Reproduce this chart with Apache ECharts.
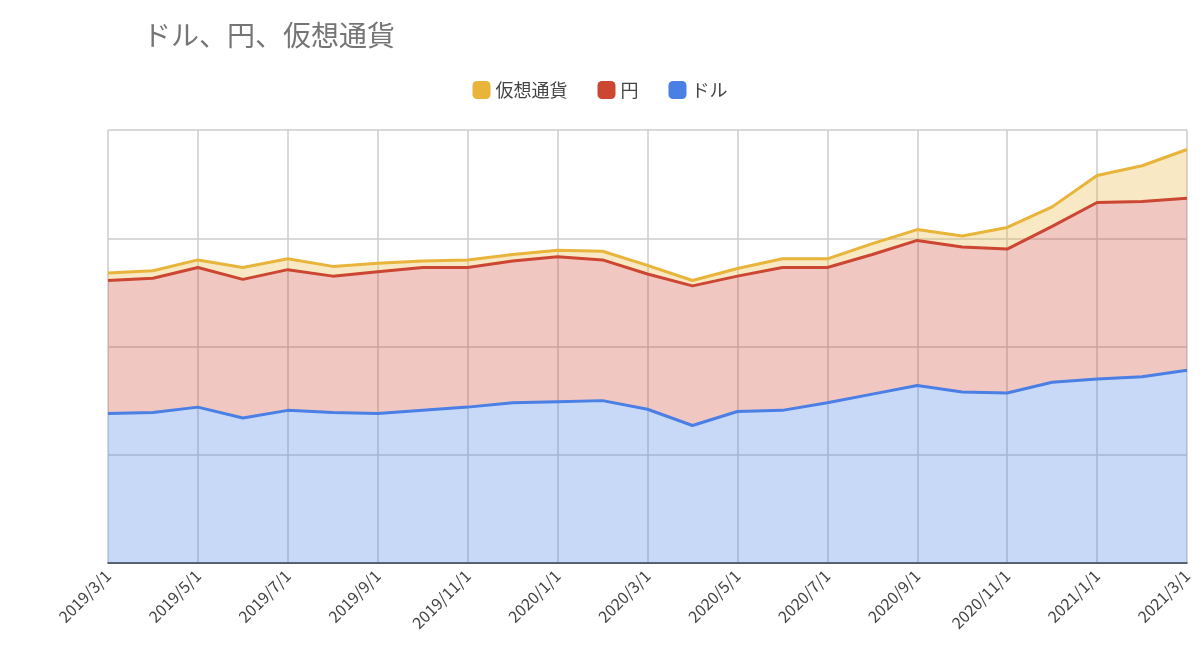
<!DOCTYPE html>
<html><head><meta charset="utf-8">
<script src="https://cdn.jsdelivr.net/npm/echarts@6/dist/echarts.min.js"></script>
<style>html,body{margin:0;padding:0;background:#fff}#c{width:1200px;height:668px}</style>
</head><body><div id="c"></div>
<script>
const categories = ['2019/3/1','2019/4/1','2019/5/1','2019/6/1','2019/7/1','2019/8/1','2019/9/1','2019/10/1','2019/11/1','2019/12/1','2020/1/1','2020/2/1','2020/3/1','2020/4/1','2020/5/1','2020/6/1','2020/7/1','2020/8/1','2020/9/1','2020/10/1','2020/11/1','2020/12/1','2021/1/1','2021/2/1','2021/3/1'];
const dollar = [138,139,144,134,141,139,138,141,144,148,149,150,142,127,140,141,148,156,164,158,157,167,170,172,178];
const yen = [123,124,129,128,130,126,131,132,129,131,134,130,125,129,125,132,125,129,134,134,133,144,163,162,159];
const crypto = [7,7,7,11,10,9,8,6,7,6,6,8,8,5,7,8,8,10,10,10,20,18,25,33,45];
const font = '"Noto Sans CJK JP", "Noto Sans", sans-serif';
function s(name, data, color){
  return {name, type:'line', stack:'total', data, symbol:'none', smooth:false,
    lineStyle:{color, width:3}, itemStyle:{color}, areaStyle:{color, opacity:0.3}};
}
const chart = echarts.init(document.getElementById('c'));
chart.setOption({
  animation:false,
  title:{text:'ドル、円、仮想通貨', left:138, top:16, textStyle:{fontFamily:font, fontSize:28, fontWeight:'normal', color:'#757575'}},
  legend:{data:['仮想通貨','円','ドル'], top:76, left:'center', itemWidth:18, itemHeight:18, itemGap:30, icon:'roundRect',
    textStyle:{fontFamily:font, fontSize:18, color:'#444'}},
  grid:{left:108, right:13, top:130, bottom:105},
  xAxis:{type:'category', data:categories, boundaryGap:false,
    axisLine:{lineStyle:{color:'#333', width:1.5}}, axisTick:{show:false},
    axisLabel:{interval:1, rotate:45, fontFamily:font, fontSize:16, color:'#444', margin:10},
    splitLine:{show:true, interval:1, lineStyle:{color:'#ccc', width:1.5}}},
  yAxis:{type:'value', min:0, max:400, interval:100, axisLabel:{show:false},
    axisLine:{show:false}, axisTick:{show:false}, splitLine:{lineStyle:{color:'#ccc', width:1.5}}},
  series:[s('ドル', dollar, '#4a7fe6'), s('円', yen, '#cc4632'), s('仮想通貨', crypto, '#e8b43a')]
});
</script></body></html>
